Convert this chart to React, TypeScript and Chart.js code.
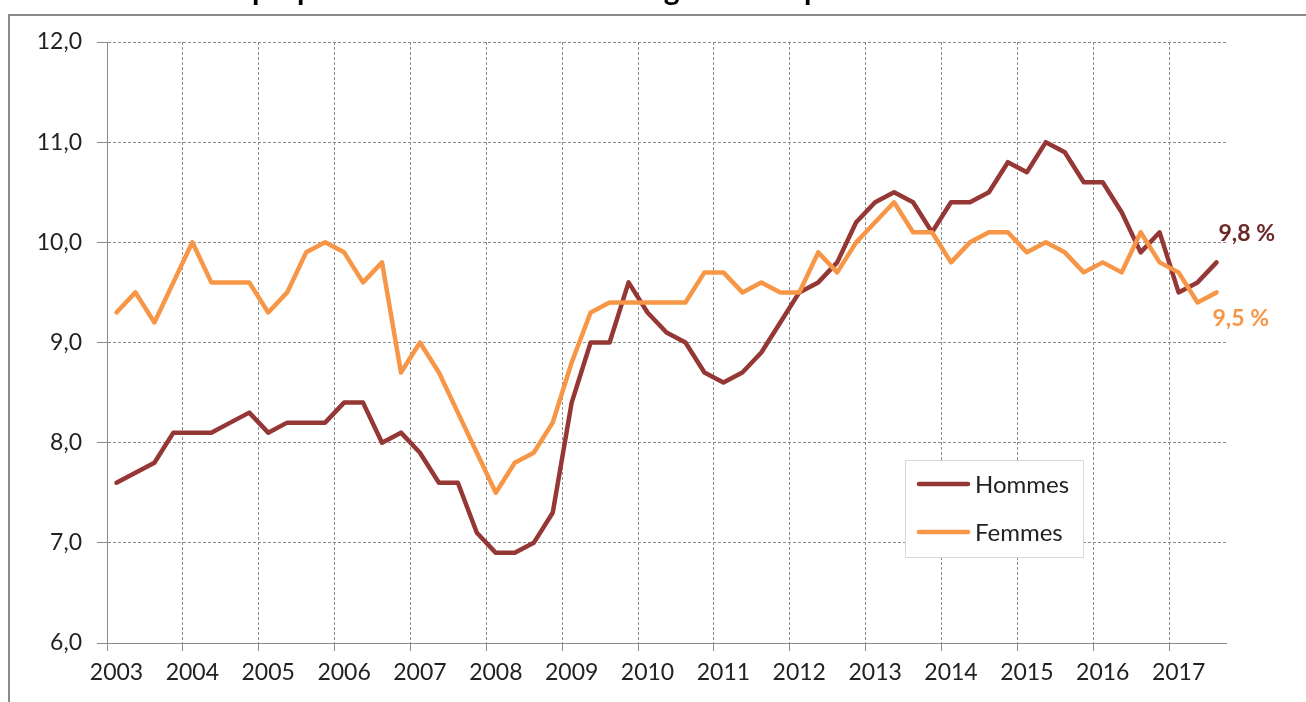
import React, { useEffect, useRef } from "react";
import { Chart, registerables } from "chart.js";

Chart.register(...registerables);

// ---- Data ----
const years = [2003, 2004, 2005, 2006, 2007, 2008, 2009, 2010, 2011, 2012, 2013, 2014, 2015, 2016, 2017];
const quarterNames = ["T1", "T2", "T3", "T4"];
const quarterCount = 59; // 2003 T1 .. 2017 T3

const hommes = [
  7.6, 7.7, 7.8, 8.1,
  8.1, 8.1, 8.2, 8.3,
  8.1, 8.2, 8.2, 8.2,
  8.4, 8.4, 8.0, 8.1,
  7.9, 7.6, 7.6, 7.1,
  6.9, 6.9, 7.0, 7.3,
  8.4, 9.0, 9.0, 9.6,
  9.3, 9.1, 9.0, 8.7,
  8.6, 8.7, 8.9, 9.2,
  9.5, 9.6, 9.8, 10.2,
  10.4, 10.5, 10.4, 10.1,
  10.4, 10.4, 10.5, 10.8,
  10.7, 11.0, 10.9, 10.6,
  10.6, 10.3, 9.9, 10.1,
  9.5, 9.6, 9.8,
];

const femmes = [
  9.3, 9.5, 9.2, 9.6,
  10.0, 9.6, 9.6, 9.6,
  9.3, 9.5, 9.9, 10.0,
  9.9, 9.6, 9.8, 8.7,
  9.0, 8.7, 8.3, 7.9,
  7.5, 7.8, 7.9, 8.2,
  8.8, 9.3, 9.4, 9.4,
  9.4, 9.4, 9.4, 9.7,
  9.7, 9.5, 9.6, 9.5,
  9.5, 9.9, 9.7, 10.0,
  10.2, 10.4, 10.1, 10.1,
  9.8, 10.0, 10.1, 10.1,
  9.9, 10.0, 9.9, 9.7,
  9.8, 9.7, 10.1, 9.8,
  9.7, 9.4, 9.5,
];

const seriesNames = ["Hommes", "Femmes"];
const endLabels = ["9,8 %", "9,5 %"];
const yTicks = { min: 6, max: 12, step: 1 };
const titleText = "Évolution de la proportion de chômeurs de longue durée par sexe";

const quarterLabels = years
  .flatMap((y) => quarterNames.map((q) => `${y} ${q}`))
  .slice(0, quarterCount);

// ---- Styles ----
const COLOR_H = "#953735";
const COLOR_F = "#F79646";
const COLOR_H_LABEL = "#6b2826";
const GRID = "#8c8c8c";
const TEXT = "#222222";
const FONT = "Lato, 'Open Sans', sans-serif";

const overlayPlugin = {
  id: "overlay",
  afterDraw(chart: any) {
    const ctx = chart.ctx as CanvasRenderingContext2D;
    ctx.save();

    // Title (cut off above the frame: only descenders remain visible)
    ctx.font = `bold 30px ${FONT}`;
    ctx.fillStyle = "#000";
    ctx.textBaseline = "alphabetic";
    ctx.textAlign = "left";
    const prefix = titleText.slice(0, titleText.indexOf("proportion"));
    const startX = 252 - ctx.measureText(prefix).width;
    ctx.fillText(titleText, startX, 0);

    // End labels
    const colors = [COLOR_H_LABEL, COLOR_F];
    const offsets = [
      { dx: 2, dy: -29 },
      { dx: -4, dy: 26 },
    ];
    ctx.font = `bold 23px ${FONT}`;
    ctx.textBaseline = "middle";
    for (let d = 0; d < 2; d++) {
      const meta = chart.getDatasetMeta(d);
      const pt = meta.data[meta.data.length - 1];
      ctx.fillStyle = colors[d];
      ctx.fillText(endLabels[d], pt.x + offsets[d].dx, pt.y + offsets[d].dy);
    }

    // Legend box
    const bx = 905.5, by = 460.5, bw = 178, bh = 97;
    ctx.fillStyle = "#ffffff";
    ctx.fillRect(bx, by, bw, bh);
    ctx.strokeStyle = "#d9d9d9";
    ctx.lineWidth = 1;
    ctx.strokeRect(bx, by, bw, bh);
    const rows = [484, 532];
    const lcolors = [COLOR_H, COLOR_F];
    ctx.font = `24px ${FONT}`;
    ctx.textBaseline = "middle";
    for (let i = 0; i < 2; i++) {
      ctx.strokeStyle = lcolors[i];
      ctx.lineWidth = 4.5;
      ctx.lineCap = "round";
      ctx.beginPath();
      ctx.moveTo(919, rows[i]);
      ctx.lineTo(968, rows[i]);
      ctx.stroke();
      ctx.fillStyle = TEXT;
      ctx.fillText(seriesNames[i], 975, rows[i] + 1);
    }
    ctx.restore();
  },
};

export default function App() {
  const canvasRef = useRef<HTMLCanvasElement | null>(null);

  useEffect(() => {
    if (!canvasRef.current) return;
    const gridColorX = (c: any) =>
      typeof c.index === "number" && c.index % 4 === 0 ? GRID : "rgba(0,0,0,0)";
    const chart = new Chart(canvasRef.current, {
      type: "line",
      data: {
        labels: quarterLabels,
        datasets: [
          {
            label: seriesNames[0],
            data: hommes,
            borderColor: COLOR_H,
            backgroundColor: COLOR_H,
            order: 1,
          },
          {
            label: seriesNames[1],
            data: femmes,
            borderColor: COLOR_F,
            backgroundColor: COLOR_F,
            order: 0,
          },
        ],
      },
      options: {
        animation: false,
        responsive: false,
        maintainAspectRatio: false,
        devicePixelRatio: 1,
        layout: { padding: { left: 37, top: 42, right: 80, bottom: 0 } },
        plugins: {
          legend: { display: false },
          tooltip: { enabled: false },
          title: { display: false },
        },
        elements: {
          point: { radius: 0, hoverRadius: 0 },
          line: {
            tension: 0,
            borderWidth: 4.5,
            borderJoinStyle: "round",
            borderCapStyle: "round",
          },
        },
        scales: {
          x: {
            type: "category",
            offset: true,
            grid: {
              offset: true,
              color: gridColorX,
              tickColor: gridColorX,
              tickLength: 8,
              lineWidth: 1,
              tickBorderDash: [],
            },
            border: { display: true, color: GRID, width: 1, dash: [3, 2] },
            ticks: {
              autoSkip: false,
              maxRotation: 0,
              minRotation: 0,
              padding: 8,
              color: TEXT,
              font: { family: FONT, size: 23 },
              callback: (_v: any, i: number) =>
                i % 4 === 0 ? String(years[Math.floor(i / 4)]) : "",
            },
            afterFit: (s: any) => {
              s.height = 59;
            },
          },
          y: {
            min: yTicks.min,
            max: yTicks.max,
            grid: {
              color: GRID,
              tickColor: GRID,
              tickLength: 10,
              lineWidth: 1,
              tickBorderDash: [],
            },
            border: { display: true, color: GRID, width: 1, dash: [3, 2] },
            ticks: {
              stepSize: yTicks.step,
              padding: 15,
              color: TEXT,
              font: { family: FONT, size: 23 },
              callback: (v: any) => Number(v).toFixed(1).replace(".", ","),
            },
            afterFit: (s: any) => {
              s.width = 70;
            },
          },
        },
      },
      plugins: [overlayPlugin],
    });
    return () => chart.destroy();
  }, []);

  return (
    <div
      style={{
        position: "fixed",
        left: 0,
        top: 0,
        width: 1306,
        height: 702,
        overflow: "hidden",
        background: "#ffffff",
      }}
    >
      <div
        style={{
          position: "absolute",
          left: 8,
          top: 14,
          width: 1320,
          height: 720,
          border: "2px solid #8a8a8a",
          boxSizing: "border-box",
        }}
      />
      <canvas
        ref={canvasRef}
        width={1306}
        height={702}
        style={{ position: "absolute", left: 0, top: 0, width: 1306, height: 702 }}
      />
    </div>
  );
}
